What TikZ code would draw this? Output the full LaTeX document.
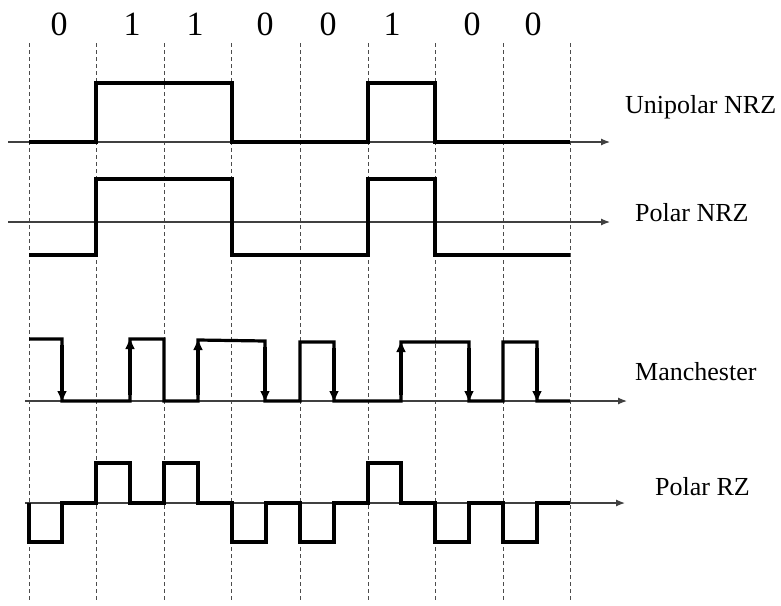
\documentclass[tikz,border=0pt]{standalone}
\usepackage{fontspec}
\setmainfont{Liberation Serif}
\usetikzlibrary{arrows.meta}
\begin{document}
\begin{tikzpicture}[x=1pt,y=-1pt,
  sig/.style={line width=3.2pt,line join=miter,black},
  axisline/.style={line width=1.2pt,black!75,-{Latex[length=9pt,width=7pt]}},
  grid/.style={line width=0.8pt,black!70,dash pattern=on 4pt off 3pt},
  bit/.style={inner sep=0pt,anchor=base,font=\fontsize{34}{36}\selectfont},
  lbl/.style={inner sep=0pt,anchor=base west,font=\fontsize{26}{28}\selectfont},
  marr/.style={line width=3.2pt,-{Triangle[length=10pt,width=8.5pt]}}]
\useasboundingbox (0,0) rectangle (781,605);
% dashed bit boundaries
\foreach \x in {29,96,164,231,300,368,435,503,570}
  \draw[grid] (\x,43) -- (\x,600);
% bit labels
\node[bit] (b1) at (59,35) {0};
\node[bit] (b2) at (132,35) {1};
\node[bit] (b3) at (195,35) {1};
\node[bit] (b4) at (265,35) {0};
\node[bit] (b5) at (328,35) {0};
\node[bit] (b6) at (392,35) {1};
\node[bit] (b7) at (472,35) {0};
\node[bit] (b8) at (533,35) {0};
% Unipolar NRZ
\coordinate (ua0) at (8,142); \coordinate (ua1) at (610,142);
\draw[axisline] (ua0) -- (ua1);
\draw[sig] (29,142) -- (96,142) -- (96,83) -- (232,83) -- (232,142) -- (368,142) -- (368,83) -- (435,83) -- (435,142) -- (570,142);
\node[lbl] (lu) at (625,113) {Unipolar NRZ};
% Polar NRZ
\coordinate (pa0) at (8,222); \coordinate (pa1) at (610,222);
\draw[axisline] (pa0) -- (pa1);
\draw[sig] (29,255) -- (96,255) -- (96,179) -- (232,179) -- (232,255) -- (368,255) -- (368,179) -- (435,179) -- (435,255) -- (570,255);
\node[lbl] (lp) at (635,221) {Polar NRZ};
% Manchester
\coordinate (ma0) at (25,401); \coordinate (ma1) at (627,401);
\draw[axisline] (ma0) -- (ma1);
\draw[sig] (29,339) -- (62,339) -- (62,401) -- (130,401) -- (130,339) -- (164,339) -- (164,401) -- (198,401) -- (198,340) -- (265,341) -- (265,401) -- (300,401) -- (300,342) -- (334,342) -- (334,401) -- (401,401) -- (401,342) -- (469,342) -- (469,401) -- (503,401) -- (503,342) -- (537,342) -- (537,401) -- (570,401);
\draw[marr] (62,345) -- (62,401);
\draw[marr] (130,395) -- (130,339);
\draw[marr] (198,395) -- (198,340);
\draw[marr] (265,347) -- (265,401);
\draw[marr] (334,348) -- (334,401);
\draw[marr] (401,395) -- (401,342);
\draw[marr] (469,348) -- (469,401);
\draw[marr] (537,348) -- (537,401);
\node[lbl] (lm) at (635,380) {Manchester};
% Polar RZ
\coordinate (ra0) at (25,503); \coordinate (ra1) at (625,503);
\draw[axisline] (ra0) -- (ra1);
\draw[sig] (29,503) -- (29,542) -- (62,542) -- (62,503) -- (96,503) -- (96,463) -- (130,463) -- (130,503) -- (164,503) -- (164,463) -- (198,463) -- (198,503) -- (232,503) -- (232,542) -- (266,542) -- (266,503) -- (300,503) -- (300,542) -- (334,542) -- (334,503) -- (368,503) -- (368,463) -- (401,463) -- (401,503) -- (435,503) -- (435,542) -- (469,542) -- (469,503) -- (503,503) -- (503,542) -- (537,542) -- (537,503) -- (570,503);
\node[lbl] (lr) at (655,495) {Polar RZ};
\end{tikzpicture}
\end{document}
